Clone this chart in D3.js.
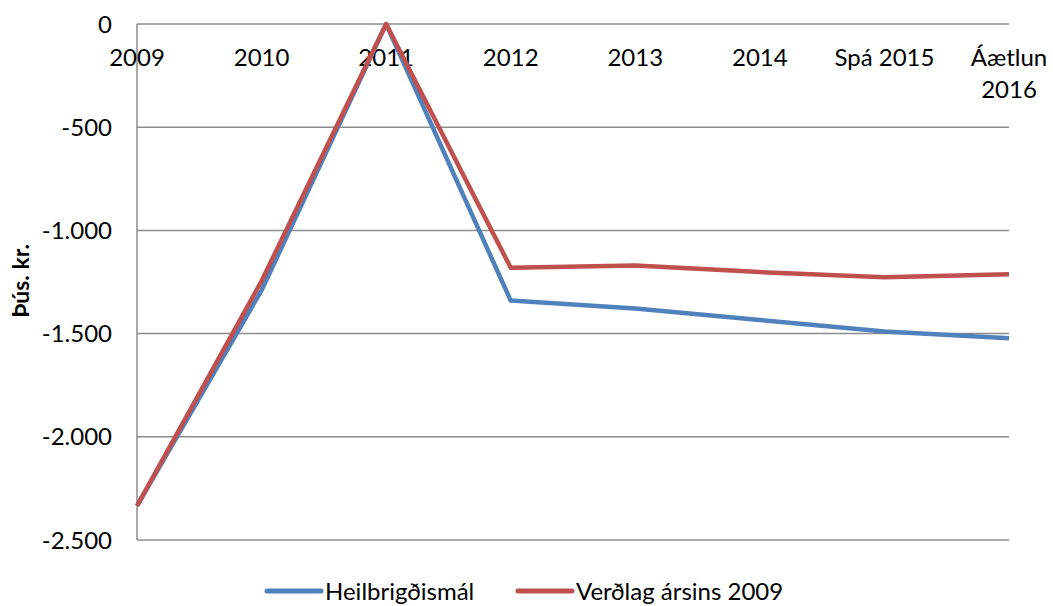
<!DOCTYPE html>
<html>
<head>
<meta charset="utf-8">
<script src="https://cdn.jsdelivr.net/npm/d3@7"></script>
<style>
  body { margin: 0; background: #fff; }
  svg text { font-family: Lato, "Open Sans", sans-serif; fill: #000; }
</style>
</head>
<body>
<div id="chart"></div>
<script>
// categories on the x axis (last one wraps onto two lines)
var categories = ["2009", "2010", "2011", "2012", "2013", "2014", "Spá 2015", "Áætlun 2016"];
var heilbrigdismal = [-2335, -1290, 0, -1340, -1378, -1434, -1490, -1523];
var verdlag2009 = [-2335, -1245, 0, -1181, -1170, -1202, -1227, -1212];
var yTicks = [0, -500, -1000, -1500, -2000, -2500];
var seriesNames = ["Heilbrigðismál", "Verðlag ársins 2009"];
var seriesColors = ["#4F81BD", "#C0504D"];

var width = 1053, height = 606;
var margin = { top: 24, right: 44, bottom: 66, left: 137 };
var w = width - margin.left - margin.right,
    h = height - margin.top - margin.bottom;

var svg = d3.select("#chart").append("svg")
    .attr("width", width)
    .attr("height", height);

var g = svg.append("g")
    .attr("transform", "translate(" + margin.left + "," + margin.top + ")");

var x = d3.scalePoint()
    .domain(categories)
    .range([0, w])
    .padding(0);

var y = d3.scaleLinear()
    .domain([-2500, 0])
    .range([h, 0]);

// gridlines
g.selectAll(".grid")
    .data(yTicks)
    .enter().append("line")
    .attr("class", "grid")
    .attr("x1", 0)
    .attr("x2", w)
    .attr("y1", function(d) { return y(d); })
    .attr("y2", function(d) { return y(d); })
    .attr("stroke", "#8c8c8c")
    .attr("stroke-width", 1.5);

// left axis line
g.append("line")
    .attr("x1", 0).attr("x2", 0)
    .attr("y1", 0).attr("y2", h)
    .attr("stroke", "#8c8c8c")
    .attr("stroke-width", 1.5);

// y tick labels
var fmt = function(d) { return d === 0 ? "0" : d3.format(",")(d).replace(/,/g, ".").replace("−", "-"); };
g.selectAll(".ylab")
    .data(yTicks)
    .enter().append("text")
    .attr("class", "ylab")
    .attr("x", -25)
    .attr("y", function(d) { return y(d); })
    .attr("dy", "0.36em")
    .attr("text-anchor", "end")
    .style("font-size", "24px")
    .text(fmt);

// x category labels, hanging under the zero line
var xl = g.selectAll(".xlab")
    .data(categories)
    .enter().append("text")
    .attr("class", "xlab")
    .attr("text-anchor", "middle")
    .attr("transform", function(d) { return "translate(" + x(d) + "," + (y(0) + 42) + ")"; })
    .style("font-size", "24px");

xl.each(function(d) {
  var el = d3.select(this);
  if (d === "Áætlun 2016") {
    el.append("tspan").attr("x", 0).attr("dy", 0).text("Áætlun");
    el.append("tspan").attr("x", 0).attr("dy", 32).text("2016");
  } else {
    el.text(d);
  }
});

// y axis title
svg.append("text")
    .attr("transform", "translate(29,281) rotate(-90)")
    .attr("text-anchor", "middle")
    .style("font-size", "23px")
    .style("font-weight", "bold")
    .text("Þús. kr.");

// lines
var line = d3.line()
    .x(function(d, i) { return x(categories[i]); })
    .y(function(d) { return y(d); });

var allSeries = [heilbrigdismal, verdlag2009];
g.selectAll(".series")
    .data(allSeries)
    .enter().append("path")
    .attr("class", "series")
    .attr("d", line)
    .attr("fill", "none")
    .attr("stroke", function(d, i) { return seriesColors[i]; })
    .attr("stroke-width", 4.5)
    .attr("stroke-linejoin", "round");

// legend
var legendX = [267, 518];
var legend = svg.selectAll(".legend")
    .data(seriesNames)
    .enter().append("g")
    .attr("class", "legend")
    .attr("transform", function(d, i) { return "translate(" + legendX[i] + ",591)"; });

legend.append("line")
    .attr("x1", 0).attr("x2", 54)
    .attr("stroke", function(d, i) { return seriesColors[i]; })
    .attr("stroke-width", 5)
    .attr("stroke-linecap", "round");

legend.append("text")
    .attr("x", 58)
    .attr("dy", "0.36em")
    .style("font-size", "24px")
    .text(function(d) { return d; });
</script>
</body>
</html>
